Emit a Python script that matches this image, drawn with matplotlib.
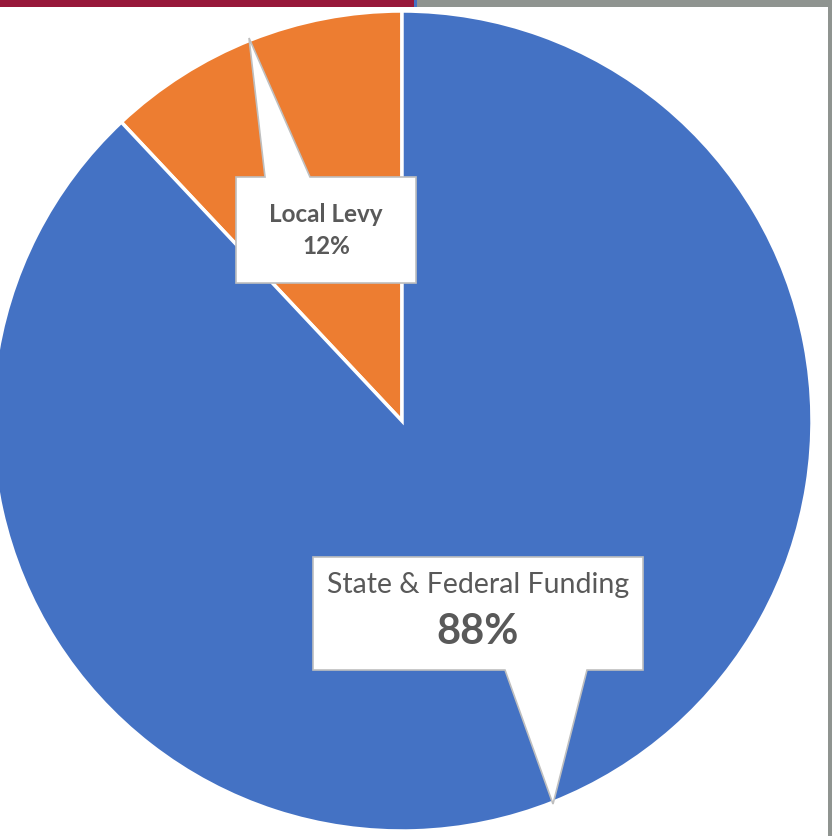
import matplotlib
matplotlib.use("Agg")
import matplotlib.pyplot as plt
from matplotlib.patches import Polygon, Rectangle

# ---- data ----
categories = ["Local Levy", "State & Federal Funding"]
values = [12, 88]
colors = ["#ED7D31", "#4472C4"]

# ---- layout (pixels of the 832x836 canvas) ----
W, H = 832, 836
CX, CY, R = 402, 421, 410

fig = plt.figure(figsize=(W / 100, H / 100), dpi=100)
ax = fig.add_axes([0, 0, 1, 1])
ax.axis("off")


def P(px, py):
    return ((px - CX) / R, (CY - py) / R)


ax.pie(values, colors=colors, startangle=90, counterclock=True, radius=1,
       center=(0, 0), frame=False,
       wedgeprops=dict(edgecolor="white", linewidth=2.5))
ax.set_xlim(-CX / R, (W - CX) / R)
ax.set_ylim((CY - H) / R, CY / R)
ax.set_aspect("auto")

edge = "#BFBFBF"
# Local Levy callout
lv = [P(236, 177), P(265, 177), P(249, 38), P(310, 177), P(416, 177),
      P(416, 283), P(236, 283)]
ax.add_patch(Polygon(lv, closed=True, facecolor="white", edgecolor=edge,
                     linewidth=1.2, zorder=5))
# State & Federal callout
sf = [P(313, 557), P(643, 557), P(643, 670), P(587, 670), P(553, 804),
      P(505, 670), P(313, 670)]
ax.add_patch(Polygon(sf, closed=True, facecolor="white", edgecolor=edge,
                     linewidth=1.2, zorder=5))

tc = "#595959"
fam = ["Lato", "DejaVu Sans"]
x, y = P(326, 214)
ax.text(x, y, categories[0], ha="center", va="center", fontsize=17.5,
        fontweight="bold", color=tc, family=fam, zorder=6)
x, y = P(326, 247)
ax.text(x, y, f"{values[0]}%", ha="center", va="center", fontsize=17.5,
        fontweight="bold", color=tc, family=fam, zorder=6)
x, y = P(478, 585)
ax.text(x, y, categories[1], ha="center", va="center", fontsize=20.5,
        color=tc, family=fam, zorder=6)
x, y = P(478, 632)
ax.text(x, y, f"{values[1]}%", ha="center", va="center", fontsize=30,
        fontweight="bold", color=tc, family=fam, zorder=6)

# frame bars of the screenshot
fig.patches.append(Rectangle((0, 1 - 7 / H), 414 / W, 7 / H, transform=fig.transFigure,
                             facecolor="#97183A", edgecolor="none", zorder=10))
fig.patches.append(Rectangle((414 / W, 1 - 7 / H), 3 / W, 7 / H, transform=fig.transFigure,
                             facecolor="#4472C4", edgecolor="none", zorder=10))
fig.patches.append(Rectangle((417 / W, 1 - 7 / H), 415 / W, 7 / H, transform=fig.transFigure,
                             facecolor="#8F9490", edgecolor="none", zorder=10))
fig.patches.append(Rectangle((828 / W, 0), 4 / W, 1, transform=fig.transFigure,
                             facecolor="#8F9490", edgecolor="none", zorder=10))

fig.savefig("out.png", dpi=100)
